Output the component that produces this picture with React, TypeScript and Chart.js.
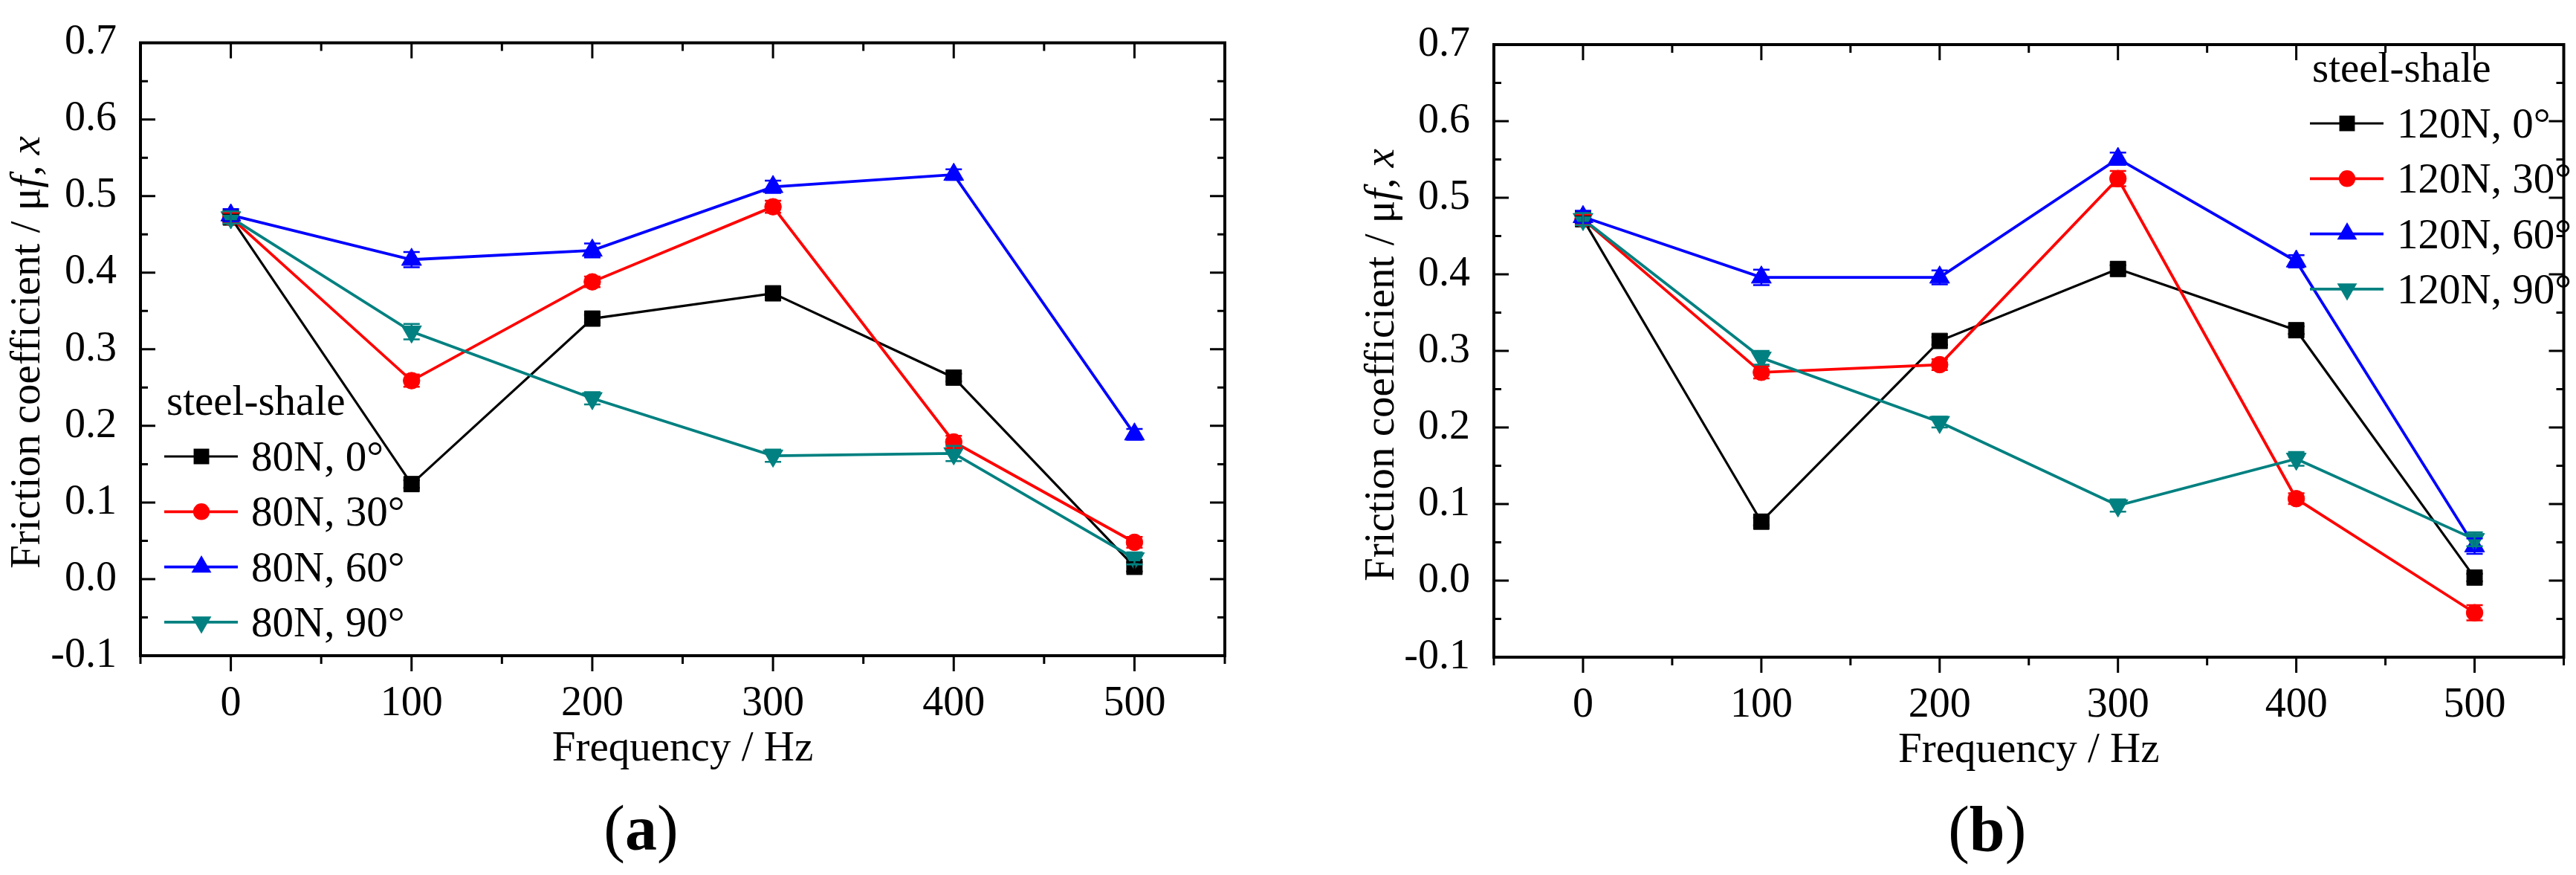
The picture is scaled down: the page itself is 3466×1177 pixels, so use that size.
import React, { useEffect, useRef } from "react";
import { Chart, registerables } from "chart.js";

Chart.register(...registerables);

// ---------------- data ----------------
const frequencyHz = [0, 100, 200, 300, 400, 500];
const xTickValues = [0, 100, 200, 300, 400, 500];
const yTickValues = [-0.1, 0.0, 0.1, 0.2, 0.3, 0.4, 0.5, 0.6, 0.7];

const legendTitle = "steel-shale";
const xAxisTitle = "Frequency / Hz";
const yAxisTitleParts: [string, string][] = [
  ["Friction coefficient / μ", "normal"],
  ["f", "italic"],
  [", ", "normal"],
  ["x", "italic"],
];

const labels80N = ["80N, 0°", "80N, 30°", "80N, 60°", "80N, 90°"];
const labels120N = ["120N, 0°", "120N, 30°", "120N, 60°", "120N, 90°"];

// (a) 80 N
const mu80N_0 = [0.472, 0.124, 0.340, 0.373, 0.263, 0.016];
const mu80N_30 = [0.472, 0.259, 0.388, 0.486, 0.179, 0.048];
const mu80N_60 = [0.475, 0.417, 0.429, 0.512, 0.528, 0.189];
const mu80N_90 = [0.472, 0.323, 0.236, 0.161, 0.164, 0.027];
const err80N_0 = [0.005, 0.005, 0.005, 0.005, 0.005, 0.006];
const err80N_30 = [0.006, 0.008, 0.007, 0.008, 0.008, 0.007];
const err80N_60 = [0.008, 0.010, 0.009, 0.008, 0.007, 0.007];
const err80N_90 = [0.008, 0.010, 0.008, 0.008, 0.010, 0.008];

// (b) 120 N
const mu120N_0 = [0.472, 0.077, 0.313, 0.407, 0.327, 0.004];
const mu120N_30 = [0.472, 0.272, 0.282, 0.525, 0.107, -0.042];
const mu120N_60 = [0.475, 0.396, 0.396, 0.551, 0.417, 0.045];
const mu120N_90 = [0.472, 0.291, 0.207, 0.098, 0.159, 0.054];
const err120N_0 = [0.005, 0.005, 0.005, 0.005, 0.005, 0.005];
const err120N_30 = [0.006, 0.008, 0.007, 0.010, 0.007, 0.010];
const err120N_60 = [0.008, 0.010, 0.009, 0.008, 0.008, 0.010];
const err120N_90 = [0.008, 0.009, 0.007, 0.008, 0.009, 0.009];

// ---------------- styles ----------------
const FONT = "'Liberation Serif', 'Times New Roman', serif";
const seriesColors = ["#000000", "#ff0000", "#0000ff", "#008080"];
const seriesPointStyles = ["rect", "circle", "triangle", "triangle"];
const seriesPointRotation = [0, 0, 0, 180];
const seriesPointRadius = [14.8, 11.2, 15.5, 15.5];
const seriesLineWidth = [3.2, 3.8, 3.8, 3.8];

const CANVAS_W = 1733;
const CANVAS_H = 1177;

type PanelCfg = {
  canvasLeft: number;
  pad: { left: number; right: number; top: number; bottom: number };
  labels: string[];
  values: number[][];
  errors: number[][];
  legendLineX: number;
  legendFirstRowY: number;
  yTitleBaselineX: number;
  yTitleCenterY: number;
  panelLetter: string;
  panelLabelBaseline: number;
};

const panels: PanelCfg[] = [
  {
    canvasLeft: 0,
    pad: { left: 189, right: 85, top: 38, bottom: 295 },
    labels: labels80N,
    values: [mu80N_0, mu80N_30, mu80N_60, mu80N_90],
    errors: [err80N_0, err80N_30, err80N_60, err80N_90],
    legendLineX: 221,
    legendFirstRowY: 614,
    yTitleBaselineX: 53,
    yTitleCenterY: 474,
    panelLetter: "a",
    panelLabelBaseline: 1143,
  },
  {
    canvasLeft: 1733,
    pad: { left: 277, right: 16, top: 60, bottom: 293 },
    labels: labels120N,
    values: [mu120N_0, mu120N_30, mu120N_60, mu120N_90],
    errors: [err120N_0, err120N_30, err120N_60, err120N_90],
    legendLineX: 1375,
    legendFirstRowY: 166,
    yTitleBaselineX: 142,
    yTitleCenterY: 491,
    panelLetter: "b",
    panelLabelBaseline: 1144,
  },
];

function drawMarker(
  ctx: CanvasRenderingContext2D,
  style: string,
  rotationDeg: number,
  x: number,
  y: number,
  r: number,
  color: string
) {
  ctx.save();
  ctx.fillStyle = color;
  ctx.beginPath();
  if (style === "rect") {
    const s = r * Math.SQRT1_2;
    ctx.rect(x - s, y - s, 2 * s, 2 * s);
  } else if (style === "circle") {
    ctx.arc(x, y, r, 0, Math.PI * 2);
  } else {
    let rad = (rotationDeg * Math.PI) / 180;
    for (let k = 0; k < 3; k++) {
      const px = x + Math.sin(rad) * r;
      const py = y - Math.cos(rad) * r;
      if (k === 0) ctx.moveTo(px, py);
      else ctx.lineTo(px, py);
      rad += (2 * Math.PI) / 3;
    }
  }
  ctx.closePath();
  ctx.fill();
  ctx.restore();
}

function minorValues(ticks: number[], min: number, max: number) {
  const out: number[] = [];
  if (ticks.length < 2) return out;
  const step = ticks[1] - ticks[0];
  for (let v = ticks[0] - step / 2; v >= min - 1e-9; v -= step) out.push(v);
  for (let v = ticks[0] + step / 2; v <= max + 1e-9; v += step) out.push(v);
  return out;
}

const errorBarPlugin = {
  id: "errorBars",
  afterDatasetsDraw(chart: any, _args: any, opts: any) {
    const ctx: CanvasRenderingContext2D = chart.ctx;
    const ys = chart.scales.y;
    const errs: number[][] = opts.errors || [];
    ctx.save();
    chart.data.datasets.forEach((ds: any, di: number) => {
      const meta = chart.getDatasetMeta(di);
      ctx.strokeStyle = ds.borderColor;
      ctx.lineWidth = 2.5;
      meta.data.forEach((el: any, i: number) => {
        const e = errs[di] ? errs[di][i] : 0;
        const v = ds.data[i].y;
        const yTop = ys.getPixelForValue(v + e);
        const yBot = ys.getPixelForValue(v - e);
        const x = el.x;
        ctx.beginPath();
        ctx.moveTo(x, yTop);
        ctx.lineTo(x, yBot);
        ctx.moveTo(x - 11, yTop);
        ctx.lineTo(x + 11, yTop);
        ctx.moveTo(x - 11, yBot);
        ctx.lineTo(x + 11, yBot);
        ctx.stroke();
      });
    });
    ctx.restore();
  },
};

const decorPlugin = {
  id: "decor",
  afterDraw(chart: any, _args: any, opts: any) {
    const ctx: CanvasRenderingContext2D = chart.ctx;
    const { left, right, top, bottom } = chart.chartArea;
    const xs = chart.scales.x;
    const ys = chart.scales.y;
    ctx.save();
    ctx.strokeStyle = "#000";
    ctx.fillStyle = "#000";

    // frame
    ctx.lineWidth = 4;
    ctx.strokeRect(left, top, right - left, bottom - top);

    // ticks
    const xMajor = xs.ticks.map((t: any) => t.value);
    const yMajor = ys.ticks.map((t: any) => t.value);
    const xMinor = minorValues(xMajor, xs.min, xs.max);
    const yMinor = minorValues(yMajor, ys.min, ys.max);
    ctx.lineWidth = 3;
    ctx.beginPath();
    xMajor.forEach((v: number) => {
      const px = xs.getPixelForValue(v);
      ctx.moveTo(px, bottom);
      ctx.lineTo(px, bottom + 21);
      ctx.moveTo(px, top);
      ctx.lineTo(px, top + 21);
    });
    xMinor.forEach((v: number) => {
      const px = xs.getPixelForValue(v);
      ctx.moveTo(px, bottom);
      ctx.lineTo(px, bottom + 11);
      ctx.moveTo(px, top);
      ctx.lineTo(px, top + 11);
    });
    yMajor.forEach((v: number) => {
      const py = ys.getPixelForValue(v);
      ctx.moveTo(left, py);
      ctx.lineTo(left + 20, py);
      ctx.moveTo(right, py);
      ctx.lineTo(right - 20, py);
    });
    yMinor.forEach((v: number) => {
      const py = ys.getPixelForValue(v);
      ctx.moveTo(left, py);
      ctx.lineTo(left + 10, py);
      ctx.moveTo(right, py);
      ctx.lineTo(right - 10, py);
    });
    ctx.stroke();

    // x title
    ctx.font = `normal 57px ${FONT}`;
    ctx.textAlign = "center";
    ctx.textBaseline = "alphabetic";
    ctx.fillText(xAxisTitle, (left + right) / 2, bottom + 141);

    // y title (rotated, mixed italic)
    ctx.save();
    ctx.translate(opts.yTitleBaselineX, opts.yTitleCenterY);
    ctx.rotate(-Math.PI / 2);
    ctx.textAlign = "left";
    let total = 0;
    const widths: number[] = [];
    yAxisTitleParts.forEach(([t, st]) => {
      ctx.font = `${st} 57px ${FONT}`;
      const w = ctx.measureText(t).width;
      widths.push(w);
      total += w;
    });
    let cx = -total / 2;
    yAxisTitleParts.forEach(([t, st], i) => {
      ctx.font = `${st} 57px ${FONT}`;
      ctx.fillText(t, cx, 0);
      cx += widths[i];
    });
    ctx.restore();

    // legend
    const lx = opts.legendLineX;
    const rowY = opts.legendFirstRowY;
    const rowGap = 74.3;
    ctx.font = `normal 57px ${FONT}`;
    ctx.textAlign = "left";
    ctx.fillText(legendTitle, lx + 3, rowY - 56);
    chart.data.datasets.forEach((ds: any, i: number) => {
      const y = rowY + i * rowGap;
      ctx.strokeStyle = ds.borderColor;
      ctx.lineWidth = ds.borderWidth;
      ctx.beginPath();
      ctx.moveTo(lx, y);
      ctx.lineTo(lx + 99, y);
      ctx.stroke();
      drawMarker(ctx, ds.pointStyle, ds.pointRotation, lx + 50, y, ds.pointRadius, ds.borderColor);
      ctx.fillStyle = "#000";
      ctx.font = `normal 57px ${FONT}`;
      ctx.fillText(ds.label, lx + 117, y + 19);
    });

    // panel label "(a)" with bold letter
    const parts: [string, string][] = [
      ["(", "normal"],
      [opts.panelLetter, "bold"],
      [")", "normal"],
    ];
    let tw = 0;
    const pw: number[] = [];
    parts.forEach(([t, wgt]) => {
      ctx.font = `${wgt} 86px ${FONT}`;
      const w = ctx.measureText(t).width;
      pw.push(w);
      tw += w;
    });
    let px = (left + right) / 2 - 56 - tw / 2;
    ctx.fillStyle = "#000";
    parts.forEach(([t, wgt], i) => {
      ctx.font = `${wgt} 86px ${FONT}`;
      ctx.fillText(t, px, opts.panelLabelBaseline);
      px += pw[i];
    });

    ctx.restore();
  },
};

function fmtY(v: number) {
  if (Math.abs(v) < 1e-9) return "0.0";
  return v.toFixed(1);
}

function buildConfig(p: PanelCfg): any {
  const datasets = p.values.map((vals, i) => ({
    label: p.labels[i],
    data: frequencyHz.map((f, j) => ({ x: f, y: vals[j] })),
    borderColor: seriesColors[i],
    backgroundColor: seriesColors[i],
    pointBackgroundColor: seriesColors[i],
    pointBorderColor: seriesColors[i],
    borderWidth: seriesLineWidth[i],
    pointStyle: seriesPointStyles[i],
    pointRotation: seriesPointRotation[i],
    pointRadius: seriesPointRadius[i],
    pointBorderWidth: 1,
    tension: 0,
    fill: false,
    order: 4 - i,
  }));
  return {
    type: "line",
    data: { datasets },
    plugins: [errorBarPlugin, decorPlugin],
    options: {
      animation: false,
      responsive: false,
      devicePixelRatio: 1,
      layout: { padding: { left: 0, bottom: 0, top: p.pad.top, right: p.pad.right } },
      plugins: {
        legend: { display: false },
        tooltip: { enabled: false },
        title: { display: false },
        errorBars: { errors: p.errors },
        decor: {
          legendLineX: p.legendLineX,
          legendFirstRowY: p.legendFirstRowY,
          yTitleBaselineX: p.yTitleBaselineX,
          yTitleCenterY: p.yTitleCenterY,
          panelLetter: p.panelLetter,
          panelLabelBaseline: p.panelLabelBaseline,
        },
      },
      scales: {
        x: {
          type: "linear",
          min: -50,
          max: 550,
          afterFit: (s: any) => {
            s.height = p.pad.bottom;
          },
          afterBuildTicks: (s: any) => {
            s.ticks = xTickValues.map((v) => ({ value: v }));
          },
          grid: { display: false },
          border: { display: false },
          ticks: {
            autoSkip: false,
            maxRotation: 0,
            minRotation: 0,
            padding: 24,
            color: "#000",
            font: { family: FONT, size: 56 },
            callback: (v: any) => String(v),
          },
        },
        y: {
          type: "linear",
          min: -0.1,
          max: 0.7,
          afterFit: (s: any) => {
            s.width = p.pad.left;
          },
          afterBuildTicks: (s: any) => {
            s.ticks = yTickValues.map((v) => ({ value: v }));
          },
          grid: { display: false },
          border: { display: false },
          ticks: {
            autoSkip: false,
            padding: 24,
            color: "#000",
            font: { family: FONT, size: 56 },
            callback: (v: any) => fmtY(Number(v)),
          },
        },
      },
    },
  };
}

function ChartPanel({ cfg }: { cfg: PanelCfg }) {
  const ref = useRef<HTMLCanvasElement | null>(null);
  useEffect(() => {
    if (!ref.current) return;
    const chart = new Chart(ref.current, buildConfig(cfg));
    return () => chart.destroy();
  }, [cfg]);
  return (
    <canvas
      ref={ref}
      width={CANVAS_W}
      height={CANVAS_H}
      style={{
        position: "absolute",
        left: cfg.canvasLeft,
        top: 0,
        width: CANVAS_W,
        height: CANVAS_H,
        display: "block",
      }}
    />
  );
}

export default function App() {
  return (
    <div
      style={{
        position: "absolute",
        left: 0,
        top: 0,
        width: 3466,
        height: 1177,
        background: "#fff",
        overflow: "hidden",
      }}
    >
      {panels.map((p, i) => (
        <ChartPanel key={i} cfg={p} />
      ))}
    </div>
  );
}
